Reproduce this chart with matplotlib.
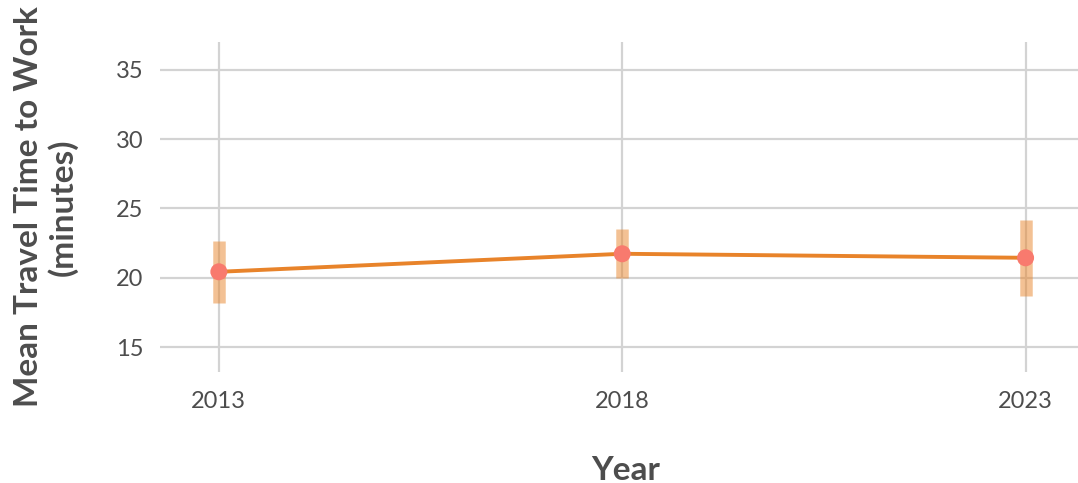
import matplotlib.pyplot as plt

years = [2013, 2018, 2023]
mean_time = [20.43, 21.73, 21.44]
lower = [18.2, 20.0, 18.7]
upper = [22.67, 23.5, 24.18]

plt.rcParams['font.family'] = ['Lato', 'DejaVu Sans']

fig = plt.figure(figsize=(10.78, 4.83), dpi=100)
ax = fig.add_axes([0.1484, 0.2298, 0.8516, 0.683])

for x, lo, hi in zip(years, lower, upper):
    ax.vlines(x, lo, hi, color='#E8852B', alpha=0.5, linewidth=9, zorder=2)
ax.plot(years, mean_time, color='#E8832A', linewidth=2.8, zorder=3)
ax.scatter(years, mean_time, s=150, color='#F87A6E', zorder=4, edgecolors='none')

ax.set_xlim(2012.27, 2023.65)
ax.set_ylim(13.2, 37.0)
ax.set_xticks(years)
ax.set_yticks([15, 20, 25, 30, 35])
ax.grid(True, color='#D3D3D3', linewidth=1.6)
ax.set_axisbelow(True)
for s in ax.spines.values():
    s.set_visible(False)
ax.tick_params(length=0, labelsize=17, labelcolor='#4D4D4D')
ax.tick_params(axis='x', pad=14)
ax.tick_params(axis='y', pad=12)

ax.set_xlabel('Year', fontsize=24, fontweight='bold', color='#4D4D4D')
ax.xaxis.set_label_coords(0.507, -0.255)
ax.set_ylabel('Mean Travel Time to Work\n(minutes)', fontsize=24, fontweight='bold',
              color='#4D4D4D', linespacing=1.15)
ax.yaxis.set_label_coords(-0.09, 0.5)

fig.savefig('out.png', dpi=100)
